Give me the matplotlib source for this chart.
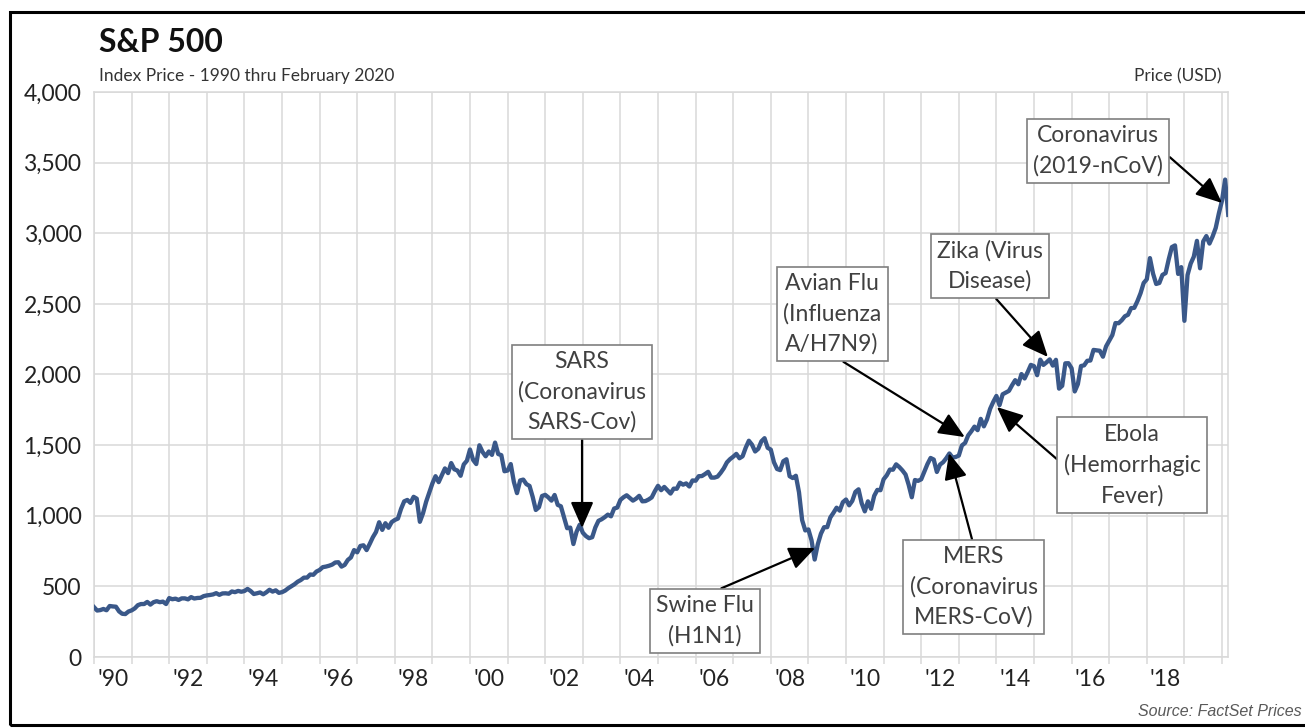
import numpy as np
import matplotlib
matplotlib.use("Agg")
import matplotlib.pyplot as plt
from matplotlib.patches import Rectangle
from matplotlib.ticker import FuncFormatter

plt.rcParams['font.family'] = ['Lato', 'DejaVu Sans']

# ---------------- data (month-end index levels, first value = Dec 1989) ----------------
start_year = 1990
sp500 = [
    353,
    # 1990
    329, 332, 340, 331, 361, 358, 356, 323, 306, 304, 322, 330,
    # 1991
    344, 367, 375, 375, 390, 371, 388, 395, 388, 392, 375, 417,
    # 1992
    409, 413, 404, 415, 415, 408, 424, 414, 418, 419, 431, 436,
    # 1993
    439, 443, 452, 440, 450, 451, 448, 464, 459, 468, 462, 467,
    # 1994
    482, 467, 446, 451, 457, 444, 458, 476, 463, 472, 454, 459,
    # 1995
    470, 487, 501, 515, 533, 545, 562, 562, 584, 582, 605, 616,
    # 1996
    636, 640, 646, 654, 669, 671, 640, 652, 687, 705, 757, 741,
    # 1997
    786, 791, 757, 801, 848, 885, 954, 900, 947, 915, 955, 970,
    # 1998
    980, 1049, 1102, 1112, 1091, 1134, 1121, 957, 1017, 1099, 1164, 1229,
    # 1999
    1280, 1238, 1286, 1335, 1302, 1373, 1329, 1320, 1283, 1363, 1389, 1469,
    # 2000
    1395, 1366, 1499, 1452, 1421, 1455, 1431, 1518, 1437, 1429, 1315, 1320,
    # 2001
    1366, 1240, 1160, 1250, 1256, 1224, 1211, 1134, 1041, 1060, 1140, 1148,
    # 2002
    1130, 1107, 1147, 1077, 1067, 990, 912, 916, 800, 886, 936, 880,
    # 2003
    856, 841, 848, 917, 964, 975, 990, 1008, 996, 1051, 1058, 1112,
    # 2004
    1131, 1145, 1126, 1107, 1121, 1141, 1102, 1104, 1115, 1130, 1174, 1212,
    # 2005
    1181, 1204, 1181, 1157, 1192, 1191, 1234, 1220, 1229, 1207, 1250, 1248,
    # 2006
    1280, 1281, 1295, 1311, 1270, 1270, 1277, 1304, 1336, 1378, 1401, 1418,
    # 2007
    1438, 1407, 1421, 1482, 1531, 1503, 1455, 1474, 1527, 1549, 1481, 1468,
    # 2008
    1379, 1331, 1323, 1386, 1400, 1280, 1267, 1283, 1166, 969, 896, 903,
    # 2009
    826, 690, 798, 873, 919, 919, 988, 1021, 1057, 1036, 1096, 1115,
    # 2010
    1074, 1105, 1169, 1187, 1089, 1031, 1102, 1049, 1141, 1183, 1181, 1258,
    # 2011
    1286, 1327, 1326, 1364, 1345, 1321, 1292, 1219, 1131, 1253, 1247, 1258,
    # 2012
    1312, 1366, 1409, 1398, 1310, 1362, 1379, 1407, 1441, 1412, 1416, 1426,
    # 2013
    1498, 1515, 1569, 1598, 1631, 1606, 1686, 1633, 1682, 1757, 1806, 1848,
    # 2014
    1783, 1860, 1872, 1884, 1924, 1960, 1931, 2003, 1972, 2018, 2068, 2059,
    # 2015
    1995, 2105, 2068, 2086, 2107, 2063, 2104, 1900, 1920, 2079, 2080, 2044,
    # 2016
    1880, 1932, 2060, 2065, 2097, 2099, 2174, 2171, 2168, 2126, 2199, 2239,
    # 2017
    2279, 2364, 2363, 2384, 2412, 2423, 2470, 2472, 2519, 2575, 2648, 2674,
    # 2018
    2824, 2714, 2641, 2648, 2705, 2718, 2816, 2902, 2914, 2712, 2760, 2380,
    # 2019
    2704, 2785, 2834, 2946, 2752, 2942, 2980, 2927, 2977, 3038, 3141, 3231,
    # 2020
    3380, 3130,
]
dates = start_year + np.arange(len(sp500)) / 12.0

ytick_vals = [0, 500, 1000, 1500, 2000, 2500, 3000, 3500, 4000]
xtick_years = list(range(1990, 2020, 2))
xtick_labels = ["'90", "'92", "'94", "'96", "'98", "'00", "'02", "'04", "'06",
                "'08", "'10", "'12", "'14", "'16", "'18"]

# events: label, arrow tip (year, value), box centre (year, value), arrow start side
event_labels = ["SARS\n(Coronavirus\nSARS-Cov)",
                "Swine Flu\n(H1N1)",
                "Avian Flu\n(Influenza\nA/H7N9)",
                "Zika (Virus\nDisease)",
                "Ebola\n(Hemorrhagic\nFever)",
                "MERS\n(Coronavirus\nMERS-CoV)",
                "Coronavirus\n(2019-nCoV)"]
event_tip_year = [2002.98, 2009.18, 2013.16, 2015.37, 2014.01, 2012.74, 2020.0]
event_tip_val = [913, 772, 1557, 2124, 1770, 1444, 3214]
event_box_year = [2002.98, 2006.25, 2009.63, 2013.83, 2017.61, 2013.40, 2016.70]
event_box_val = [1876, 255, 2428, 2768, 1359, 496, 3582]
event_relpos = [(0.5, 0), (0.5, 1), (0.5, 0), (0.5, 0), (0, 0.5), (0.5, 1), (1, 0.5)]

# ---------------- figure ----------------
W, H = 1305, 728
fig = plt.figure(figsize=(W / 100, H / 100), dpi=100)
fig.patch.set_facecolor('white')

x0, x1, ytop, ybot = 94, 1228, 92, 657
ax = fig.add_axes([x0 / W, 1 - ybot / H, (x1 - x0) / W, (ybot - ytop) / H])

line_color = '#3A5889'
grid_color = '#D9D9D9'
text_color = '#404040'

ax.plot(dates, sp500, color=line_color, lw=3.1, solid_joinstyle='round', zorder=3)

ax.set_xlim(1990, 1990 + (x1 - x0) / 37.6)
ax.set_ylim(0, 4000)

ax.set_yticks(ytick_vals)
ax.yaxis.set_major_formatter(FuncFormatter(lambda v, p: f"{int(v):,}"))
ax.set_xticks([y + 0.5 for y in xtick_years])
ax.set_xticklabels(xtick_labels)
ax.set_xticks(list(range(1990, 2021)), minor=True)

ax.grid(True, which='major', axis='y', color=grid_color, lw=1.1)
ax.grid(True, which='minor', axis='x', color=grid_color, lw=1.1)
ax.tick_params(axis='x', which='major', length=0, pad=9, labelsize=16.5, labelcolor='#222222')
ax.tick_params(axis='x', which='minor', length=5, color=grid_color, width=1.1)
ax.tick_params(axis='y', which='major', length=0, pad=9, labelsize=16.5, labelcolor='#222222')
for s in ax.spines.values():
    s.set_color(grid_color)
    s.set_linewidth(1.1)
ax.set_axisbelow(True)

# annotations
for lab, tx, ty, bx, by, rp in zip(event_labels, event_tip_year, event_tip_val,
                                   event_box_year, event_box_val, event_relpos):
    ax.annotate(lab, xy=(tx, ty), xytext=(bx, by), textcoords='data',
                ha='center', va='center', fontsize=16.5, color=text_color,
                linespacing=1.5,
                bbox=dict(boxstyle='square,pad=0.28', fc='white', ec='#7F7F7F', lw=1.2),
                arrowprops=dict(arrowstyle='-|>,head_length=0.8,head_width=0.35',
                                color='black', lw=1.6, mutation_scale=20,
                                shrinkA=0, shrinkB=0, relpos=rp),
                zorder=5)

# titles and notes
fig.text(99 / W, 1 - 42 / H, "S&P 500", fontsize=23, fontweight='bold',
         color='#111111', ha='left', va='center')
fig.text(99 / W, 1 - 76 / H, "Index Price - 1990 thru February 2020", fontsize=12.5,
         color='#333333', ha='left', va='center')
fig.text(1222 / W, 1 - 76 / H, "Price (USD)", fontsize=12.5, color='#333333',
         ha='right', va='center')
fig.text(1302 / W, 1 - 712 / H, "Source: FactSet Prices", fontsize=11.5,
         family=['Liberation Sans', 'DejaVu Sans'], style='italic', color='#595959',
         ha='right', va='center')

# outer frame
fig.patches.append(Rectangle((10 / W, 1 - 725 / H), (1320 - 10) / W, (725 - 12) / H,
                             transform=fig.transFigure, fill=False, ec='black', lw=2.2))

fig.savefig('out.png', dpi=100)
